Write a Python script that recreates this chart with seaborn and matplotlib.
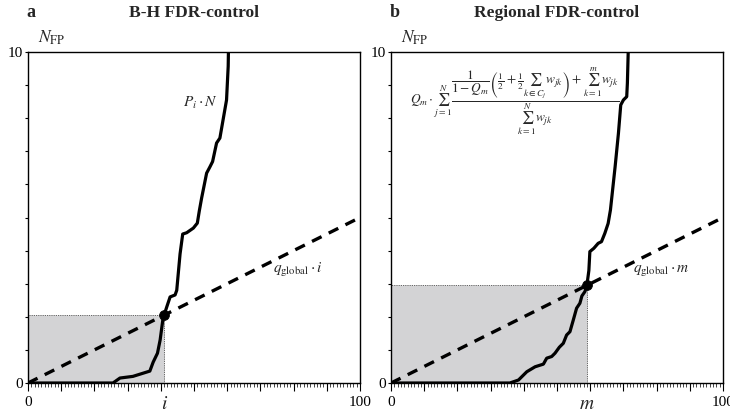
import matplotlib
matplotlib.use("Agg")
import matplotlib.pyplot as plt
import seaborn as sns
import numpy as np
import pandas as pd
from matplotlib.ticker import MultipleLocator

# ---------------- data ----------------
q_global = 0.05
x_max = 100
y_max = 10

# panel a: B-H, P_i * N curve
bh_x = [0, 25.6, 27.7, 31.6, 36.7, 37.7, 39.0, 39.8, 40.6, 41.0, 41.8, 42.8, 44.3, 44.8,
        45.8, 46.6, 47.8, 49.8, 51.0, 51.6, 52.3, 53.8, 54.8, 55.6, 56.8, 57.8, 59.8, 60.3, 60.4]
bh_y = [0, 0, 0.15, 0.2, 0.36, 0.63, 0.9, 1.3, 1.9, 2.05, 2.3, 2.6, 2.66, 2.8,
        3.9, 4.5, 4.54, 4.68, 4.83, 5.2, 5.59, 6.34, 6.53, 6.69, 7.25, 7.4, 8.55, 9.57, 10.2]
bh_cut = 41  # i

# panel b: regional FDR curve
rg_x = [0, 35.8, 38.4, 40.9, 43.4, 45.9, 46.9, 48.4, 49.4, 50.7, 51.9, 52.9, 53.9, 54.9,
        55.9, 56.9, 57.5, 58.4, 59.0, 59.6, 59.9, 61.1, 62.4, 63.4, 64.4, 65.4, 66.1,
        67.5, 68.5, 69.2, 70.0, 71.0, 71.2, 71.5]
rg_y = [0, 0, 0.09, 0.34, 0.49, 0.57, 0.75, 0.8, 0.9, 1.08, 1.2, 1.45, 1.55, 1.9,
        2.26, 2.41, 2.63, 2.76, 2.95, 3.4, 3.97, 4.07, 4.22, 4.27, 4.52, 4.82, 5.23,
        6.53, 7.54, 8.4, 8.55, 8.65, 9.06, 10.2]
rg_cut = 59  # m

panel_letters = ["a", "b"]
titles = ["B-H FDR-control", "Regional FDR-control"]
cut_labels = [r"$i$", r"$m$"]
line_labels = [r"$q_{\mathrm{global}}\cdot i$", r"$q_{\mathrm{global}}\cdot m$"]
x_ticks = list(range(0, x_max + 1, 10))
x_ticklabels = ["0"] + [""] * 9 + ["100"]
y_ticks = list(range(0, y_max + 1, 1))
y_ticklabels = ["0"] + [""] * 9 + ["10"]

# ---------------- style ----------------
sns.set_theme(style="white")
plt.rcParams["font.family"] = ["Liberation Serif", "DejaVu Serif"]
plt.rcParams["mathtext.fontset"] = "stix"

fig = plt.figure(figsize=(7.3, 4.16), dpi=100)
ax_a = fig.add_axes([28 / 730, 1 - 383 / 416, 332 / 730, 331 / 416])
ax_b = fig.add_axes([391 / 730, 1 - 383 / 416, 332 / 730, 331 / 416])

panels = [(ax_a, bh_x, bh_y, bh_cut), (ax_b, rg_x, rg_y, rg_cut)]

for k, (ax, cx, cy, cut) in enumerate(panels):
    thr_x = [0, x_max]
    thr_y = [0, q_global * x_max]
    cut_y = q_global * cut

    # shaded region
    ax.fill_between([0, cut], 0, cut_y, facecolor="#d3d3d5", edgecolor="#333333",
                    linestyle=(0, (1, 1.2)), linewidth=0.6, zorder=1)

    # dashed threshold line
    sns.lineplot(x=thr_x, y=thr_y, ax=ax, color="black", linewidth=2.4,
                 estimator=None, sort=False, zorder=3)
    ax.lines[-1].set_dashes((3.2, 2.4))

    # curve
    sns.lineplot(x=cx, y=cy, ax=ax, color="black", linewidth=2.3,
                 estimator=None, sort=False, zorder=4)
    ax.lines[-1].set_solid_joinstyle("round")

    # intersection point
    sns.scatterplot(x=[cut], y=[cut_y], ax=ax, color="black", s=50,
                    edgecolor="black", zorder=5)

    ax.set_xlim(0, x_max)
    ax.set_ylim(0, y_max)

    for sp in ax.spines.values():
        sp.set_visible(True)
        sp.set_color("black")
        sp.set_linewidth(1.0)

    ax.set_xticks(x_ticks)
    ax.set_xticklabels(x_ticklabels)
    ax.xaxis.set_minor_locator(MultipleLocator(1))
    ax.set_yticks(y_ticks)
    ax.set_yticklabels(y_ticklabels)
    ax.tick_params(axis="x", which="major", direction="out", length=6, width=0.8,
                   bottom=True, top=False, labelsize=11, pad=3.5, colors="black")
    ax.tick_params(axis="x", which="minor", direction="out", length=3, width=0.6,
                   bottom=True, top=False)
    ax.tick_params(axis="y", which="major", direction="out", length=2.5, width=0.8,
                   left=True, right=False, labelsize=11, pad=1, colors="black")
    ax.set_xlabel("")
    ax.set_ylabel("")

    # cut label below axis
    ax.text(cut, -0.8, cut_labels[k], transform=ax.transData, ha="center",
            va="baseline", fontsize=14)

    # threshold line label
    ax.text(81.4, 3.4, line_labels[k], ha="center", va="center", fontsize=11)

    # y-axis label
    ax.text(0.03, 1.027, r"$N_{\mathrm{FP}}$", transform=ax.transAxes,
            ha="left", va="baseline", fontsize=12.5)

    # title and panel letter
    ax.text(0.5, 1.105, titles[k], transform=ax.transAxes, ha="center",
            va="baseline", fontsize=12.6, fontweight="bold")
    ax.text(-0.005, 1.105, panel_letters[k], transform=ax.transAxes, ha="left",
            va="baseline", fontsize=13, fontweight="bold")

ax_a.text(52, 8.45, r"$P_i\cdot N$", ha="center", va="center", fontsize=11)

formula = (r"$Q_m\cdot\sum_{j=1}^{N}\dfrac{\dfrac{1}{1-Q_m}\left(\frac{1}{2}+\frac{1}{2}"
           r"\sum_{k\in C_j} w_{jk}\right)+\sum_{k=1}^{m} w_{jk}}{\sum_{k=1}^{N} w_{jk}}$")
ax_b.text(37.3, 8.5, formula, ha="center", va="center", fontsize=9.6)

fig.savefig("out.png", dpi=100, facecolor="white")
